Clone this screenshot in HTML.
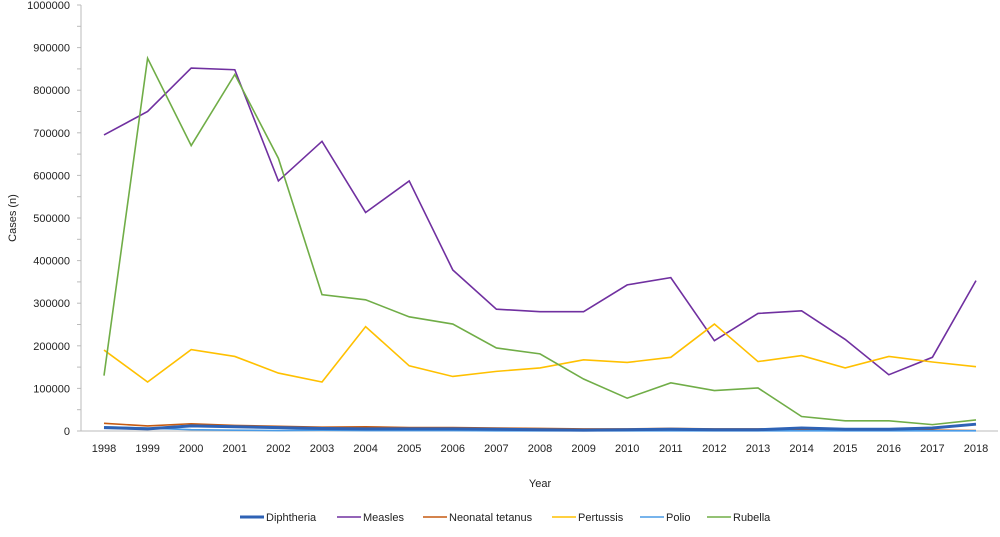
<!DOCTYPE html>
<html><head><meta charset="utf-8"><style>
body{margin:0;background:#fff;font-family:"Liberation Sans",sans-serif}
svg text{font-family:"Liberation Sans",sans-serif;font-size:11px;fill:#222}
</style></head><body>
<svg id="c" width="1000" height="532"></svg>
<script>
const years=[1998,1999,2000,2001,2002,2003,2004,2005,2006,2007,2008,2009,2010,2011,2012,2013,2014,2015,2016,2017,2018];
const yTicks=[0,100000,200000,300000,400000,500000,600000,700000,800000,900000,1000000];
const diphtheria=[8000,5000,12000,10000,8000,6000,5000,5000,5000,4000,3000,2000,3000,4000,3000,3000,7000,4000,4000,7000,16000];
const measles=[695000,750000,852000,848000,587000,680000,513000,587000,378000,286000,280000,280000,343000,360000,212000,276000,282000,215000,132000,173000,353000];
const tetanus=[18000,12000,17000,13000,11000,9000,10000,8000,8000,7000,6000,5000,5000,6000,5000,5000,4000,3000,2000,2000,1000];
const pertussis=[190000,115000,191000,175000,136000,115000,245000,153000,128000,140000,148000,167000,161000,173000,251000,163000,177000,148000,175000,162000,151000];
const polio=[10000,7000,3000,2000,1000,2000,1000,1000,1000,500,500,500,500,500,500,500,500,500,500,500,500];
const rubella=[130000,875000,670000,837000,640000,320000,308000,268000,251000,195000,181000,122000,77000,113000,95000,101000,34000,24000,24000,15000,26000];
const series=[["diphtheria",diphtheria,"#2e62b5",3],["measles",measles,"#7030a0",1.6],["neonatal-tetanus",tetanus,"#c55a11",1.6],["pertussis",pertussis,"#ffc000",1.6],["polio",polio,"#4a9be6",1.6],["rubella",rubella,"#70ad47",1.6]];
const names=["Diphtheria","Measles","Neonatal tetanus","Pertussis","Polio","Rubella"];
const NS="http://www.w3.org/2000/svg",svg=document.getElementById('c');
const x=i=>104+i*43.6, y=v=>431-v/1000000*426;
function mk(t,a,p){const e=document.createElementNS(NS,t);for(const k in a)e.setAttribute(k,a[k]);(p||svg).appendChild(e);return e;}
const ax=mk('line',{x1:81,y1:5,x2:81,y2:431,stroke:'#bbb'});


const bx=mk('line',{x1:81,y1:431,x2:998,y2:431,stroke:'#bbb'});


for(let v=0;v<=1000000;v+=50000)mk('line',{x1:77,x2:81,y1:y(v),y2:y(v),stroke:'#bbb'});
yTicks.forEach(v=>{const t=mk('text',{x:70,y:y(v)+4,'text-anchor':'end'});t.textContent=v;

});
years.forEach((yr,i)=>{const t=mk('text',{x:x(i),y:452,'text-anchor':'middle'});t.textContent=yr;

});
const xt=mk('text',{x:540,y:487,'text-anchor':'middle'});xt.textContent='Year';


const yt=mk('text',{x:16,y:218,'text-anchor':'middle',transform:'rotate(-90 16 218)'});yt.textContent='Cases (n)';


[1,3,5,2,4,0].forEach(k=>{const s=series[k];const p=mk('polyline',{points:s[1].map((v,i)=>x(i)+','+y(v)).join(' '),fill:'none',stroke:s[2],'stroke-width':s[3]});

});
const lx=[240,337,423,552,640,707];
series.forEach((s,k)=>{const g=mk('g',{});


mk('line',{x1:lx[k],x2:lx[k]+24,y1:517,y2:517,stroke:s[2],'stroke-width':s[3]},g);
const t=mk('text',{x:lx[k]+26,y:521,'font-size':'11.5'},g);t.textContent=names[k];});
</script>
</body></html>
